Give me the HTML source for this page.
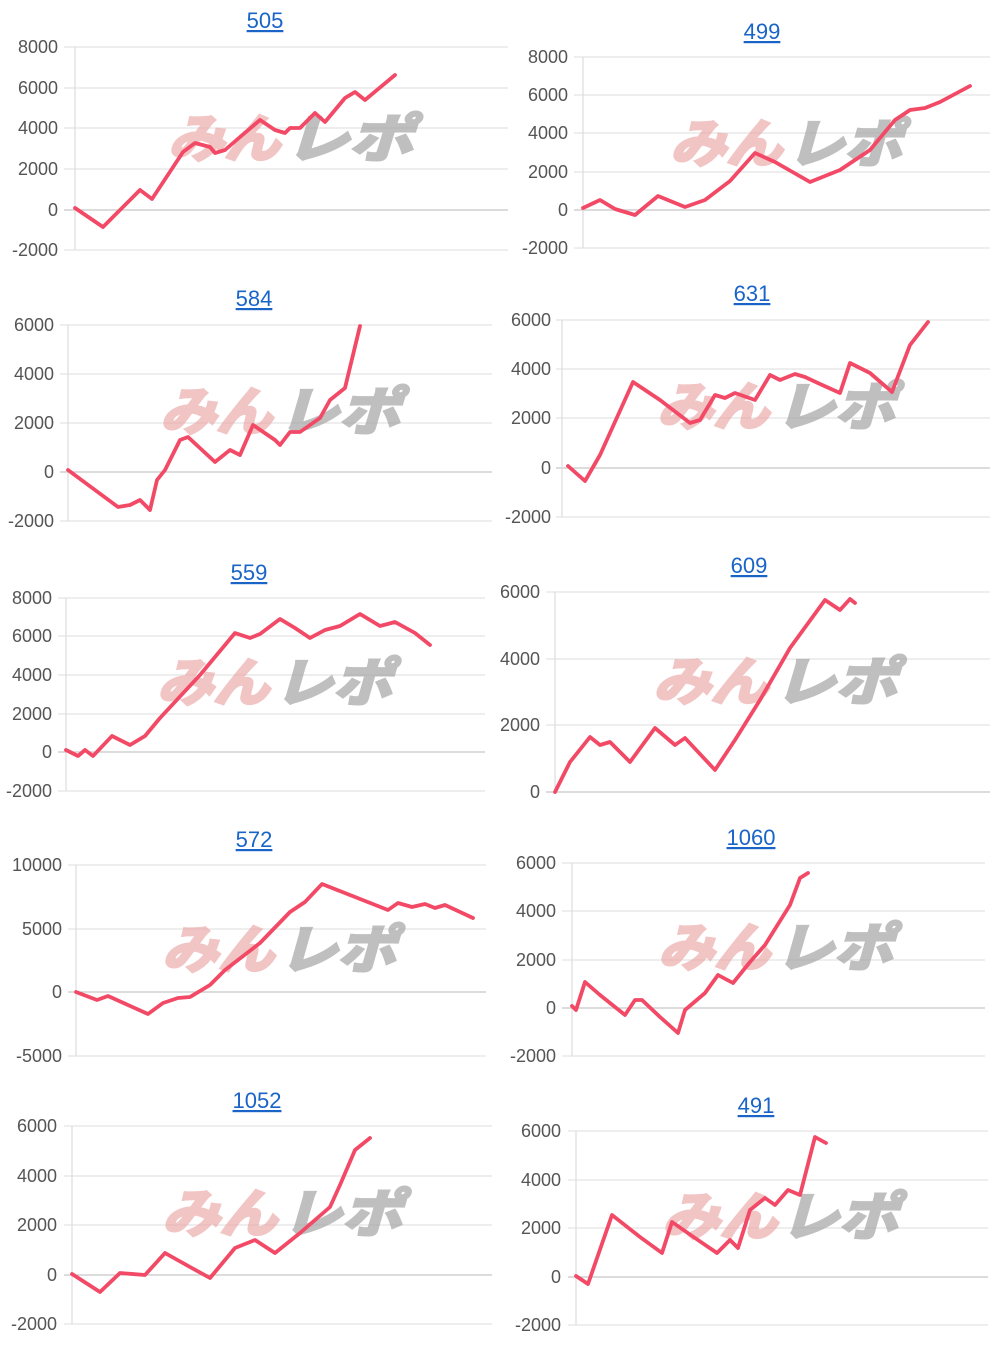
<!DOCTYPE html>
<html><head><meta charset="utf-8"><style>
body{margin:0;background:#fff;}
svg{display:block}
.t{font:22px "Liberation Sans",sans-serif;fill:#1a64c8;text-anchor:middle;text-decoration:underline}
.l{font:18px "Liberation Sans",sans-serif;fill:#555;text-anchor:end}
.g{stroke:#e3e3e3;stroke-width:1.2}
.z{stroke:#c8c8c8;stroke-width:1.3}
.a{stroke:#dcdcdc;stroke-width:1.2}
.p{fill:none;stroke:#f24a66;stroke-width:3.8;stroke-linejoin:round;stroke-linecap:round}
.w1{font:italic bold 52px "Noto Sans CJK JP",sans-serif;fill:#eba0a0;stroke:#eba0a0;stroke-width:3;opacity:.6}
.w2{font:italic bold 52px "Noto Sans CJK JP",sans-serif;fill:#aaa;stroke:#aaa;stroke-width:3;opacity:.75}
</style></head><body>
<svg width="1000" height="1345" xmlns="http://www.w3.org/2000/svg">
<!-- 1 -->
<text class="t" x="265" y="28">505</text>
<g class="l"><text x="58" y="53">8000</text><text x="58" y="94">6000</text><text x="58" y="134">4000</text><text x="58" y="175">2000</text><text x="58" y="216">0</text><text x="58" y="256">-2000</text></g>
<line class="g" x1="64" x2="508" y1="47" y2="47"/><line class="g" x1="64" x2="508" y1="88" y2="88"/><line class="g" x1="64" x2="508" y1="128" y2="128"/><line class="g" x1="64" x2="508" y1="169" y2="169"/><line class="z" x1="64" x2="508" y1="210" y2="210"/><line class="g" x1="64" x2="508" y1="250" y2="250"/><line class="a" x1="75" x2="75" y1="47" y2="250"/>
<text class="w1" x="168" y="157" textLength="112" lengthAdjust="spacingAndGlyphs">みん</text><text class="w2" x="285" y="157" textLength="128" lengthAdjust="spacingAndGlyphs">レポ</text>
<polyline class="p" points="75,208 103,227 140,190 152,199 183,152 195,143 210,147 215,153 225,150 240,137 260,120 275,130 285,133 290,128 300,128 315,113 325,122 345,98 355,92 365,100 395,75"/>
<!-- 2 -->
<text class="t" x="762" y="39">499</text>
<g class="l"><text x="568" y="63">8000</text><text x="568" y="101">6000</text><text x="568" y="139">4000</text><text x="568" y="178">2000</text><text x="568" y="216">0</text><text x="568" y="254">-2000</text></g>
<line class="g" x1="574" x2="990" y1="57" y2="57"/><line class="g" x1="574" x2="990" y1="95" y2="95"/><line class="g" x1="574" x2="990" y1="133" y2="133"/><line class="g" x1="574" x2="990" y1="172" y2="172"/><line class="z" x1="574" x2="990" y1="210" y2="210"/><line class="g" x1="574" x2="990" y1="248" y2="248"/><line class="a" x1="583" x2="583" y1="57" y2="248"/>
<text class="w1" x="670" y="162" textLength="112" lengthAdjust="spacingAndGlyphs">みん</text><text class="w2" x="787" y="162" textLength="115" lengthAdjust="spacingAndGlyphs">レポ</text>
<polyline class="p" points="583,208 600,200 615,209 635,215 658,196 685,207 705,200 730,181 755,153 775,162 810,182 840,170 870,150 895,120 910,110 925,108 940,102 970,86"/>
<!-- 3 -->
<text class="t" x="254" y="306">584</text>
<g class="l"><text x="54" y="331">6000</text><text x="54" y="380">4000</text><text x="54" y="429">2000</text><text x="54" y="478">0</text><text x="54" y="527">-2000</text></g>
<line class="g" x1="60" x2="492" y1="325" y2="325"/><line class="g" x1="60" x2="492" y1="374" y2="374"/><line class="g" x1="60" x2="492" y1="423" y2="423"/><line class="z" x1="60" x2="492" y1="472" y2="472"/><line class="g" x1="60" x2="492" y1="521" y2="521"/><line class="a" x1="68" x2="68" y1="325" y2="521"/>
<text class="w1" x="160" y="430" textLength="112" lengthAdjust="spacingAndGlyphs">みん</text><text class="w2" x="278" y="430" textLength="122" lengthAdjust="spacingAndGlyphs">レポ</text>
<polyline class="p" points="68,470 95,490 118,507 130,505 140,500 150,510 157,480 165,470 180,440 188,437 215,462 230,450 240,455 253,425 275,440 280,445 290,432 300,432 320,418 330,400 345,388 360,326"/>
<!-- 4 -->
<text class="t" x="752" y="301">631</text>
<g class="l"><text x="551" y="326">6000</text><text x="551" y="375">4000</text><text x="551" y="424">2000</text><text x="551" y="474">0</text><text x="551" y="523">-2000</text></g>
<line class="g" x1="556" x2="990" y1="320" y2="320"/><line class="g" x1="556" x2="990" y1="369" y2="369"/><line class="g" x1="556" x2="990" y1="418" y2="418"/><line class="z" x1="556" x2="990" y1="468" y2="468"/><line class="g" x1="556" x2="990" y1="517" y2="517"/><line class="a" x1="562" x2="562" y1="320" y2="517"/>
<text class="w1" x="657" y="425" textLength="112" lengthAdjust="spacingAndGlyphs">みん</text><text class="w2" x="775" y="425" textLength="120" lengthAdjust="spacingAndGlyphs">レポ</text>
<polyline class="p" points="568,466 585,481 600,455 633,382 660,400 690,423 700,420 715,395 725,398 735,393 755,400 770,375 780,380 795,374 805,377 820,384 840,393 850,363 870,373 892,392 910,345 928,322"/>
<!-- 5 -->
<text class="t" x="249" y="580">559</text>
<g class="l"><text x="52" y="604">8000</text><text x="52" y="642">6000</text><text x="52" y="681">4000</text><text x="52" y="720">2000</text><text x="52" y="758">0</text><text x="52" y="797">-2000</text></g>
<line class="g" x1="58" x2="485" y1="598" y2="598"/><line class="g" x1="58" x2="485" y1="636" y2="636"/><line class="g" x1="58" x2="485" y1="675" y2="675"/><line class="g" x1="58" x2="485" y1="714" y2="714"/><line class="z" x1="58" x2="485" y1="752" y2="752"/><line class="g" x1="58" x2="485" y1="791" y2="791"/><line class="a" x1="66" x2="66" y1="598" y2="791"/>
<text class="w1" x="157" y="701" textLength="112" lengthAdjust="spacingAndGlyphs">みん</text><text class="w2" x="274" y="701" textLength="118" lengthAdjust="spacingAndGlyphs">レポ</text>
<polyline class="p" points="66,750 78,756 85,750 93,756 112,736 130,745 145,736 160,718 200,675 235,633 250,638 260,634 280,619 295,628 310,638 325,630 340,626 360,614 380,626 395,622 415,633 430,645"/>
<!-- 6 -->
<text class="t" x="749" y="573">609</text>
<g class="l"><text x="540" y="598">6000</text><text x="540" y="665">4000</text><text x="540" y="731">2000</text><text x="540" y="798">0</text></g>
<line class="g" x1="546" x2="990" y1="592" y2="592"/><line class="g" x1="546" x2="990" y1="659" y2="659"/><line class="g" x1="546" x2="990" y1="725" y2="725"/><line class="z" x1="546" x2="990" y1="792" y2="792"/><line class="a" x1="555" x2="555" y1="592" y2="792"/>
<text class="w1" x="653" y="700" textLength="115" lengthAdjust="spacingAndGlyphs">みん</text><text class="w2" x="774" y="700" textLength="123" lengthAdjust="spacingAndGlyphs">レポ</text>
<polyline class="p" points="555,792 570,762 590,737 600,745 610,742 630,762 655,728 675,745 685,738 715,770 735,740 760,700 790,648 825,600 840,610 850,599 855,603"/>
<!-- 7 -->
<text class="t" x="254" y="847">572</text>
<g class="l"><text x="62" y="871">10000</text><text x="62" y="935">5000</text><text x="62" y="998">0</text><text x="62" y="1062">-5000</text></g>
<line class="g" x1="68" x2="486" y1="865" y2="865"/><line class="g" x1="68" x2="486" y1="929" y2="929"/><line class="z" x1="68" x2="486" y1="992" y2="992"/><line class="g" x1="68" x2="486" y1="1056" y2="1056"/><line class="a" x1="76" x2="76" y1="865" y2="1056"/>
<text class="w1" x="162" y="968" textLength="112" lengthAdjust="spacingAndGlyphs">みん</text><text class="w2" x="279" y="968" textLength="117" lengthAdjust="spacingAndGlyphs">レポ</text>
<polyline class="p" points="76,992 97,1000 108,996 148,1014 163,1003 178,998 190,997 210,985 225,970 260,943 290,912 305,902 322,884 388,910 398,903 412,907 425,904 435,908 445,905 473,918"/>
<!-- 8 -->
<text class="t" x="751" y="845">1060</text>
<g class="l"><text x="556" y="869">6000</text><text x="556" y="917">4000</text><text x="556" y="966">2000</text><text x="556" y="1014">0</text><text x="556" y="1062">-2000</text></g>
<line class="g" x1="562" x2="985" y1="863" y2="863"/><line class="g" x1="562" x2="985" y1="911" y2="911"/><line class="g" x1="562" x2="985" y1="960" y2="960"/><line class="z" x1="562" x2="985" y1="1008" y2="1008"/><line class="g" x1="562" x2="985" y1="1056" y2="1056"/><line class="a" x1="572" x2="572" y1="863" y2="1056"/>
<text class="w1" x="658" y="966" textLength="112" lengthAdjust="spacingAndGlyphs">みん</text><text class="w2" x="775" y="966" textLength="118" lengthAdjust="spacingAndGlyphs">レポ</text>
<polyline class="p" points="572,1006 576,1010 585,982 600,995 625,1015 635,1000 642,1000 660,1017 678,1033 685,1010 705,993 718,975 733,983 750,962 765,945 790,905 800,878 808,873"/>
<!-- 9 -->
<text class="t" x="257" y="1108">1052</text>
<g class="l"><text x="57" y="1132">6000</text><text x="57" y="1182">4000</text><text x="57" y="1231">2000</text><text x="57" y="1281">0</text><text x="57" y="1330">-2000</text></g>
<line class="g" x1="64" x2="492" y1="1126" y2="1126"/><line class="g" x1="64" x2="492" y1="1176" y2="1176"/><line class="g" x1="64" x2="492" y1="1225" y2="1225"/><line class="z" x1="64" x2="492" y1="1275" y2="1275"/><line class="g" x1="64" x2="492" y1="1324" y2="1324"/><line class="a" x1="72" x2="72" y1="1126" y2="1324"/>
<text class="w1" x="162" y="1232" textLength="115" lengthAdjust="spacingAndGlyphs">みん</text><text class="w2" x="282" y="1232" textLength="120" lengthAdjust="spacingAndGlyphs">レポ</text>
<polyline class="p" points="72,1274 100,1292 120,1273 145,1275 165,1253 190,1267 210,1278 235,1248 255,1240 275,1253 300,1233 330,1207 340,1185 355,1150 370,1138"/>
<!-- 10 -->
<text class="t" x="756" y="1113">491</text>
<g class="l"><text x="561" y="1137">6000</text><text x="561" y="1186">4000</text><text x="561" y="1234">2000</text><text x="561" y="1283">0</text><text x="561" y="1331">-2000</text></g>
<line class="g" x1="568" x2="988" y1="1131" y2="1131"/><line class="g" x1="568" x2="988" y1="1180" y2="1180"/><line class="g" x1="568" x2="988" y1="1228" y2="1228"/><line class="z" x1="568" x2="988" y1="1277" y2="1277"/><line class="g" x1="568" x2="988" y1="1325" y2="1325"/><line class="a" x1="576" x2="576" y1="1131" y2="1325"/>
<text class="w1" x="662" y="1235" textLength="115" lengthAdjust="spacingAndGlyphs">みん</text><text class="w2" x="780" y="1235" textLength="118" lengthAdjust="spacingAndGlyphs">レポ</text>
<polyline class="p" points="576,1276 588,1284 612,1215 640,1237 662,1253 672,1222 695,1238 717,1253 730,1240 738,1248 750,1210 765,1198 775,1205 788,1190 800,1195 815,1137 826,1143"/>
</svg>
</body></html>
